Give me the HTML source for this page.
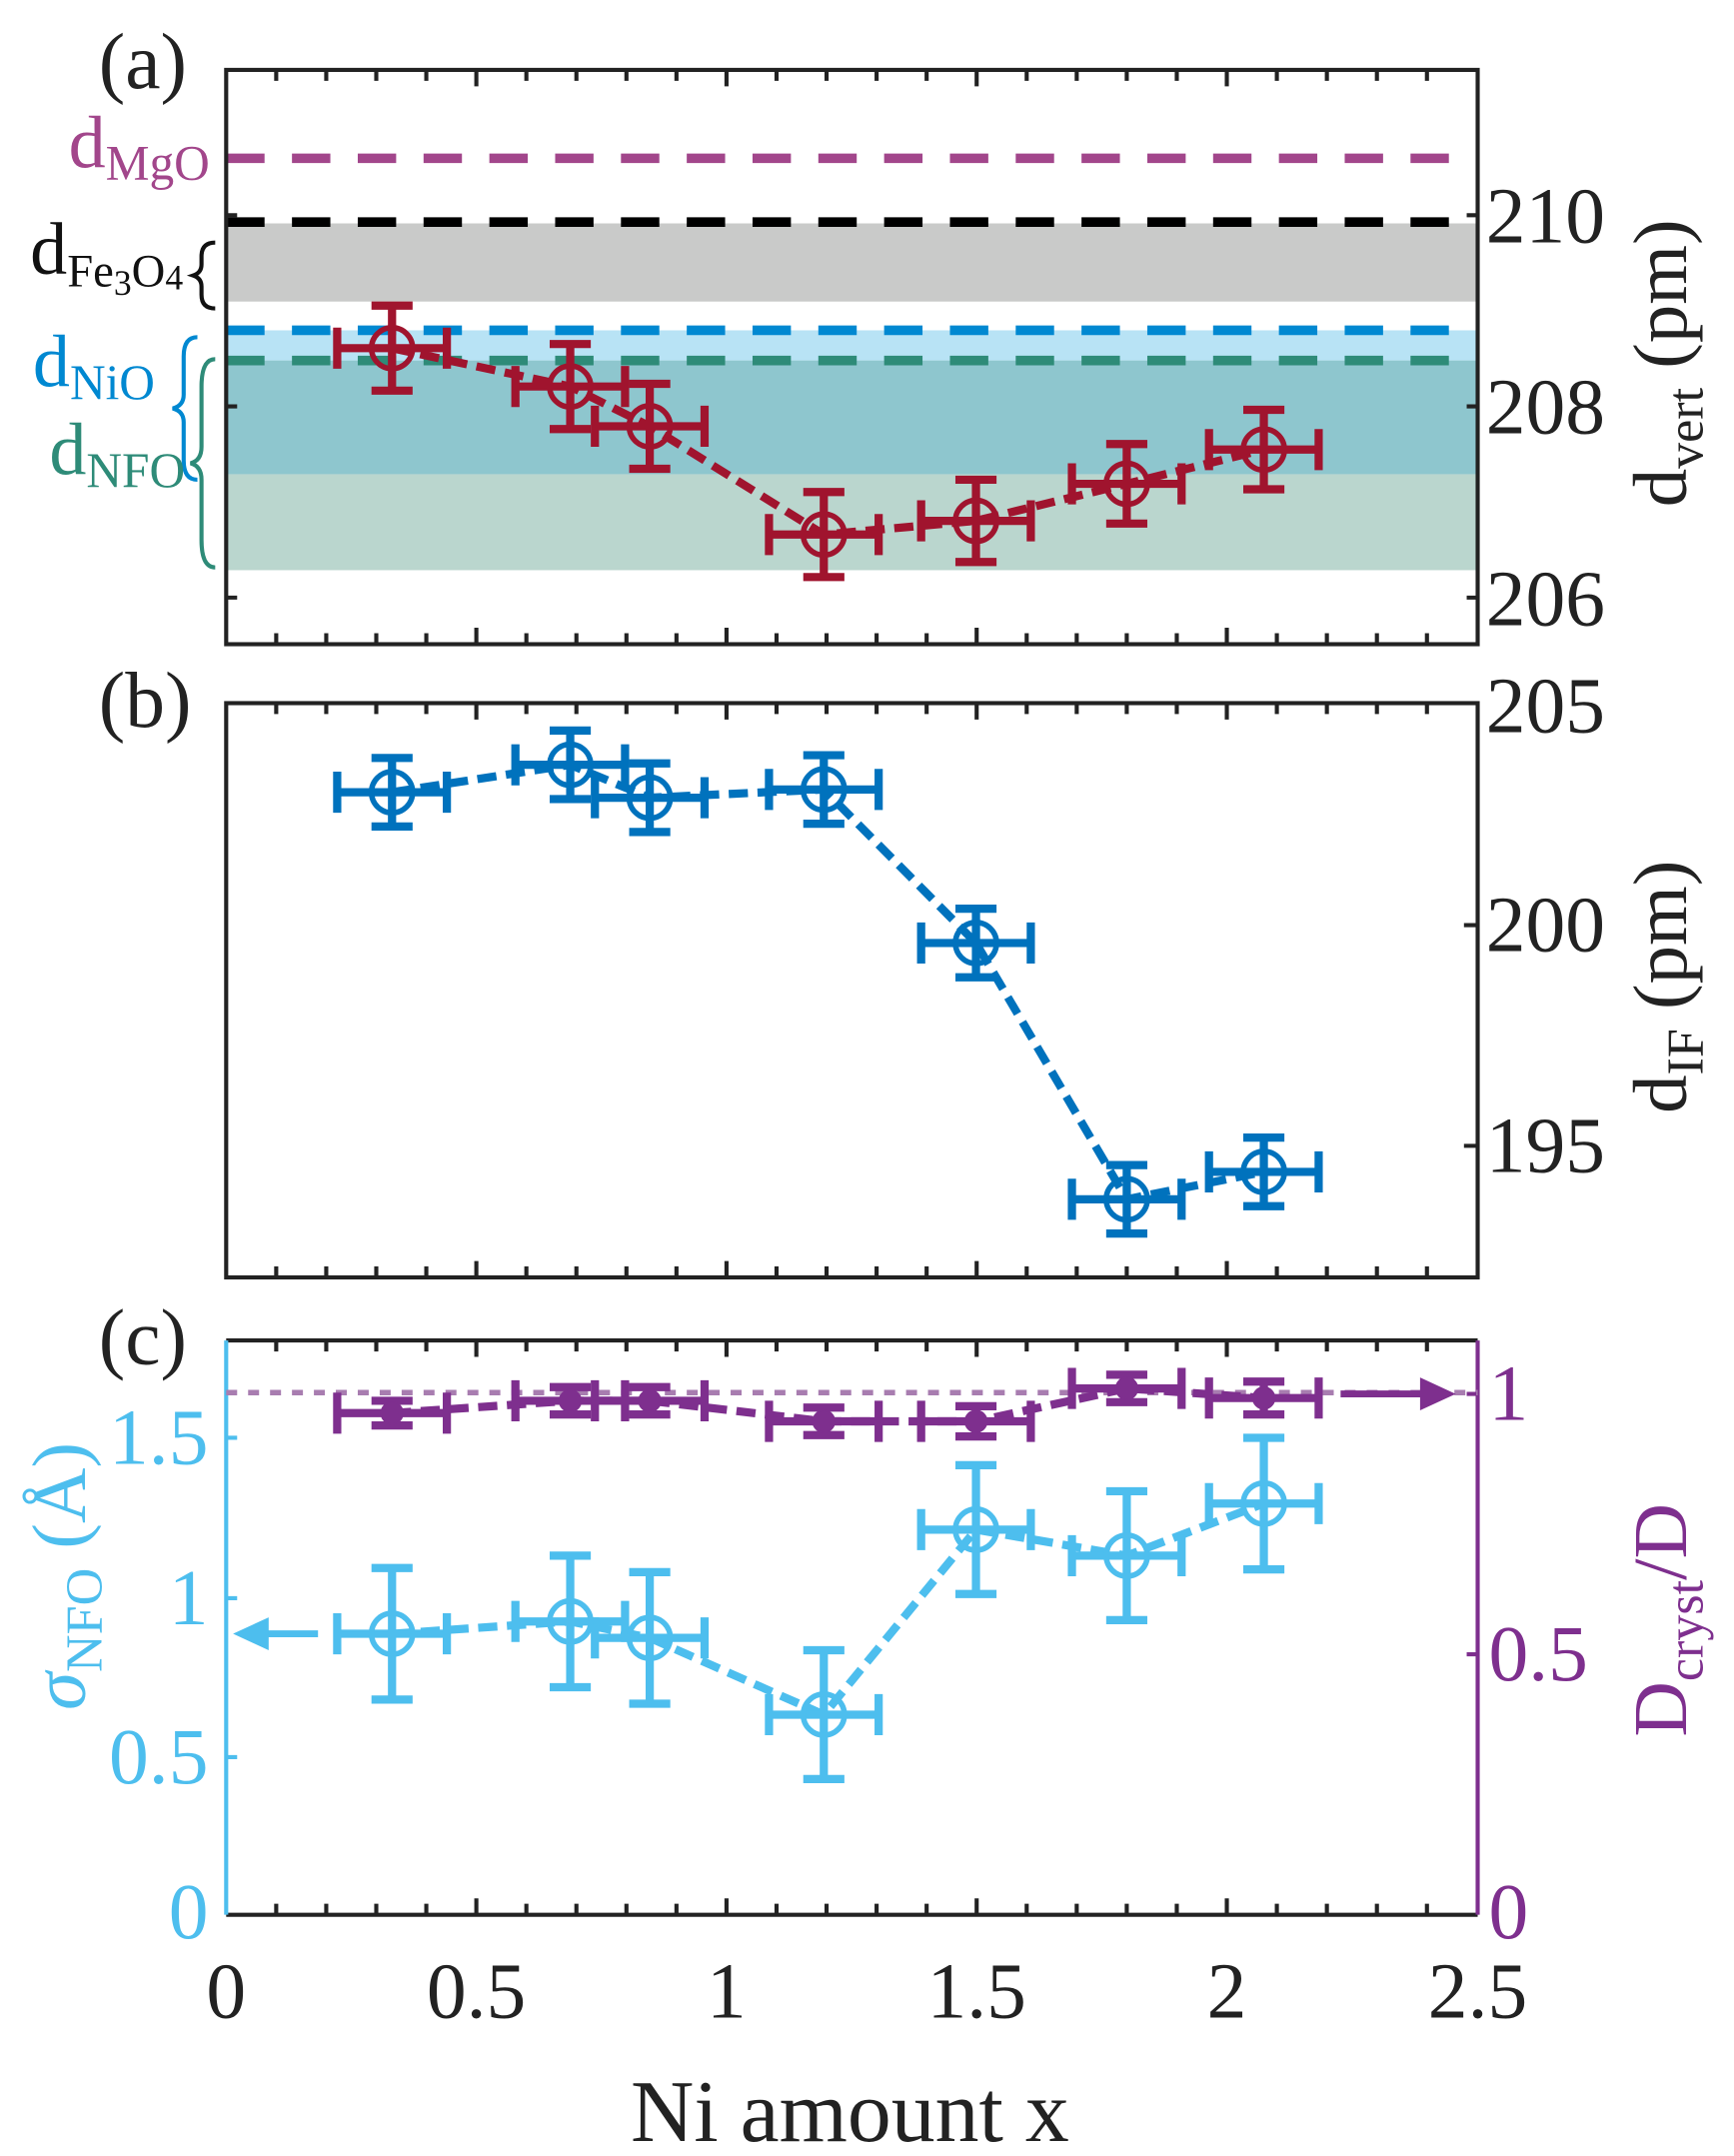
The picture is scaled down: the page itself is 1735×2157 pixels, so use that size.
<!DOCTYPE html>
<html><head><meta charset="utf-8"><style>html,body{margin:0;padding:0;background:#fff}svg{display:block}</style></head><body>
<svg width="1735" height="2157" viewBox="0 0 1265 1573" preserveAspectRatio="none" xmlns="http://www.w3.org/2000/svg" font-family="'Liberation Serif', serif">
<defs>
<g id="ta"><path d="M201.5 0v8M238 0v8M274.5 0v8M311 0v8M347.5 0v12M384 0v8M420.5 0v8M457 0v8M493.5 0v8M530 0v12M566.5 0v8M603 0v8M639.5 0v8M676 0v8M712.5 0v12M749 0v8M785.5 0v8M822 0v8M858.5 0v8M895 0v12M931.5 0v8M968 0v8M1004.5 0v8M1041 0v8" stroke="#222" stroke-width="3"/></g>
</defs>
<!-- Panel a -->
<rect x="165" y="163" width="913" height="57" fill="#C9CAC9"/>
<rect x="165" y="241" width="913" height="22" fill="#B8E3F5"/>
<rect x="165" y="263" width="913" height="83" fill="#8EC6CE"/>
<rect x="165" y="346" width="913" height="70" fill="#BAD6CE"/>
<g stroke-width="7" stroke-dasharray="28 20" fill="none">
<line x1="165" y1="115.5" x2="1076" y2="115.5" stroke="#A2468B"/>
<line x1="165" y1="162" x2="1076" y2="162" stroke="#000"/>
<line x1="165" y1="241" x2="1076" y2="241" stroke="#0088D1"/>
<line x1="165" y1="263" x2="1076" y2="263" stroke="#2E8B78"/>
</g>
<use href="#ta" transform="translate(0,51)"/>
<use href="#ta" transform="translate(0,470) scale(1,-1)"/>
<path d="M165 157h8M165 296.5h8M165 436h8M1078 157h-8M1078 296.5h-8M1078 436h-8" stroke="#222" stroke-width="3"/>
<rect x="165" y="51" width="913" height="419" fill="none" stroke="#222" stroke-width="3"/>
<g fill="#222" font-size="58">
<text x="1084" y="177">210</text><text x="1084" y="316">208</text><text x="1084" y="456">206</text>
<text x="72" y="64">(a)</text><text x="72" y="530">(b)</text><text x="72" y="995">(c)</text>
</g>
<text transform="translate(1230,265) rotate(-90)" text-anchor="middle" font-size="56" fill="#222">d<tspan font-size="38" dy="12">vert</tspan><tspan dy="-12"> (pm)</tspan></text>
<text x="153" y="122" text-anchor="end" font-size="54" fill="#A2468B">d<tspan font-size="36" dy="9">MgO</tspan></text>
<text x="22" y="200" font-size="54" fill="#111">d<tspan font-size="34" dy="9">Fe</tspan><tspan font-size="26" dy="6">3</tspan><tspan font-size="34" dy="-6">O</tspan><tspan font-size="26" dy="2">4</tspan></text>
<path d="M157 177 q-10 0 -10 10 v6 q0 6 -6 8 q6 2 6 8 v6 q0 10 10 10" fill="none" stroke="#111" stroke-width="3"/>
<text x="24" y="282" font-size="54" fill="#0088D1">d<tspan font-size="36" dy="9">NiO</tspan></text>
<path d="M144 246 q-10 0 -10 14 v28 q0 8 -8 10 q8 2 8 10 v28 q0 14 10 14" fill="none" stroke="#0088D1" stroke-width="3"/>
<text x="36" y="346" font-size="54" fill="#2E8B78">d<tspan font-size="36" dy="9">NFO</tspan></text>
<path d="M157 262 q-10 0 -10 20 v44 q0 10 -8 12 q8 2 8 12 v44 q0 20 10 20" fill="none" stroke="#2E8B78" stroke-width="3"/>
<g stroke="#A0142E" fill="none">
<polyline points="286,254 416,282 474,311 601,390 712,380 822,353 922,328" stroke-width="6" stroke-dasharray="14 7"/>
<g stroke-width="6">
<path d="M286 223v62M271 223h30M271 285h30M246 254h80M246 239v30M326 239v30"/>
<path d="M416 251v62M401 251h30M401 313h30M376 282h80M376 267v30M456 267v30"/>
<path d="M474 280v62M459 280h30M459 342h30M434 311h80M434 296v30M514 296v30"/>
<path d="M601 359v62M586 359h30M586 421h30M561 390h80M561 375v30M641 375v30"/>
<path d="M712 350v60M697 350h30M697 410h30M672 380h80M672 365v30M752 365v30"/>
<path d="M822 324v58M807 324h30M807 382h30M782 353h80M782 338v30M862 338v30"/>
<path d="M922 299v58M907 299h30M907 357h30M882 328h80M882 313v30M962 313v30"/>
</g>
<g stroke-width="4"><circle cx="286" cy="254" r="15"/><circle cx="416" cy="282" r="15"/><circle cx="474" cy="311" r="15"/><circle cx="601" cy="390" r="15"/><circle cx="712" cy="380" r="15"/><circle cx="822" cy="353" r="15"/><circle cx="922" cy="328" r="15"/></g>
</g>
<!-- Panel b -->
<use href="#ta" transform="translate(0,513)"/>
<use href="#ta" transform="translate(0,932) scale(1,-1)"/>
<path d="M1078 675h-10M1078 836h-10" stroke="#222" stroke-width="3"/>
<rect x="165" y="513" width="913" height="419" fill="none" stroke="#222" stroke-width="3"/>
<g fill="#222" font-size="58"><text x="1084" y="534">205</text><text x="1084" y="694">200</text><text x="1084" y="855">195</text></g>
<text transform="translate(1230,720) rotate(-90)" text-anchor="middle" font-size="56" fill="#222">d<tspan font-size="38" dy="12">IF</tspan><tspan dy="-12"> (pm)</tspan></text>
<g stroke="#0072BD" fill="none">
<polyline points="286,578 416,558 474,582 601,576 712,688 822,875 922,855" stroke-width="6" stroke-dasharray="14 7"/>
<g stroke-width="6">
<path d="M286 553v50M271 553h30M271 603h30M246 578h80M246 563v30M326 563v30"/>
<path d="M416 533v50M401 533h30M401 583h30M376 558h80M376 543v30M456 543v30"/>
<path d="M474 557v50M459 557h30M459 607h30M434 582h80M434 567v30M514 567v30"/>
<path d="M601 551v50M586 551h30M586 601h30M561 576h80M561 561v30M641 561v30"/>
<path d="M712 663v50M697 663h30M697 713h30M672 688h80M672 673v30M752 673v30"/>
<path d="M822 850v50M807 850h30M807 900h30M782 875h80M782 860v30M862 860v30"/>
<path d="M922 830v50M907 830h30M907 880h30M882 855h80M882 840v30M962 840v30"/>
</g>
<g stroke-width="4"><circle cx="286" cy="578" r="15"/><circle cx="416" cy="558" r="15"/><circle cx="474" cy="582" r="15"/><circle cx="601" cy="576" r="15"/><circle cx="712" cy="688" r="15"/><circle cx="822" cy="875" r="15"/><circle cx="922" cy="855" r="15"/></g>
</g>
<!-- Panel c -->
<use href="#ta" transform="translate(0,978)"/>
<use href="#ta" transform="translate(0,1397) scale(1,-1)"/>
<line x1="165" y1="978" x2="1078" y2="978" stroke="#222" stroke-width="3"/>
<line x1="165" y1="1397" x2="1078" y2="1397" stroke="#222" stroke-width="3"/>
<line x1="165" y1="978" x2="165" y2="1397" stroke="#4DBEEE" stroke-width="3"/>
<line x1="1078" y1="978" x2="1078" y2="1397" stroke="#7E2F8E" stroke-width="3"/>
<path d="M165 1049h8M165 1166h8M165 1282h8" stroke="#4DBEEE" stroke-width="3"/>
<path d="M1078 1017h-8M1078 1207h-8" stroke="#7E2F8E" stroke-width="3"/>
<g fill="#4DBEEE" font-size="58" text-anchor="end"><text x="152" y="1068">1.5</text><text x="152" y="1185">1</text><text x="152" y="1301">0.5</text><text x="152" y="1414">0</text></g>
<g fill="#7E2F8E" font-size="58"><text x="1086" y="1036">1</text><text x="1086" y="1226">0.5</text><text x="1086" y="1414">0</text></g>
<text transform="translate(62,1150) rotate(-90)" text-anchor="middle" font-size="56" fill="#4DBEEE"><tspan font-style="italic">σ</tspan><tspan font-size="38" dy="12">NFO</tspan><tspan dy="-12"> (Å)</tspan></text>
<text transform="translate(1230,1182) rotate(-90)" text-anchor="middle" font-size="56" fill="#7E2F8E">D<tspan font-size="38" dy="12">cryst</tspan><tspan dy="-12">/D</tspan></text>
<line x1="165" y1="1016" x2="1078" y2="1016" stroke="#A87DB0" stroke-width="4" stroke-dasharray="8 8"/>
<g stroke="#7E2F8E" fill="#7E2F8E">
<polyline points="286,1031 416,1022 474,1022 601,1037 712,1037 822,1013 922,1020" fill="none" stroke-width="6" stroke-dasharray="14 7"/>
<g stroke-width="6" fill="none">
<path d="M286 1022v18M271 1022h30M271 1040h30M246 1031h80M246 1016v30M326 1016v30"/>
<path d="M416 1012v20M401 1012h30M401 1032h30M376 1022h80M376 1007v30M456 1007v30"/>
<path d="M474 1012v20M459 1012h30M459 1032h30M434 1022h80M434 1007v30M514 1007v30"/>
<path d="M601 1027v20M586 1027h30M586 1047h30M561 1037h80M561 1022v30M641 1022v30"/>
<path d="M712 1026v22M697 1026h30M697 1048h30M672 1037h80M672 1022v30M752 1022v30"/>
<path d="M822 1003v20M807 1003h30M807 1023h30M782 1013h80M782 998v30M862 998v30"/>
<path d="M922 1008v24M907 1008h30M907 1032h30M882 1020h80M882 1005v30M962 1005v30"/>
</g>
<circle cx="286" cy="1031" r="8"/><circle cx="416" cy="1022" r="8"/><circle cx="474" cy="1022" r="8"/><circle cx="601" cy="1037" r="8"/><circle cx="712" cy="1037" r="8"/><circle cx="822" cy="1013" r="8"/><circle cx="922" cy="1020" r="8"/>
<path d="M978 1017h60" stroke-width="5"/><path d="M1062 1017l-26 -12v24z" stroke="none"/>
</g>
<g stroke="#4DBEEE" fill="none">
<polyline points="286,1192 416,1183 474,1195 601,1251 712,1116 822,1135 922,1097" stroke-width="6" stroke-dasharray="14 7"/>
<g stroke-width="6">
<path d="M286 1144v96M271 1144h30M271 1240h30M246 1192h80M246 1177v30M326 1177v30"/>
<path d="M416 1135v96M401 1135h30M401 1231h30M376 1183h80M376 1168v30M456 1168v30"/>
<path d="M474 1147v96M459 1147h30M459 1243h30M434 1195h80M434 1180v30M514 1180v30"/>
<path d="M601 1204v94M586 1204h30M586 1298h30M561 1251h80M561 1236v30M641 1236v30"/>
<path d="M712 1069v94M697 1069h30M697 1163h30M672 1116h80M672 1101v30M752 1101v30"/>
<path d="M822 1088v94M807 1088h30M807 1182h30M782 1135h80M782 1120v30M862 1120v30"/>
<path d="M922 1049v96M907 1049h30M907 1145h30M882 1097h80M882 1082v30M962 1082v30"/>
</g>
<g stroke-width="4"><circle cx="286" cy="1192" r="15"/><circle cx="416" cy="1183" r="15"/><circle cx="474" cy="1195" r="15"/><circle cx="601" cy="1251" r="15"/><circle cx="712" cy="1116" r="15"/><circle cx="822" cy="1135" r="15"/><circle cx="922" cy="1097" r="15"/></g>
<path d="M232 1192h-45" stroke-width="5"/><path d="M170 1192l26 -12v24z" fill="#4DBEEE" stroke="none"/>
</g>
<g fill="#222" font-size="58" text-anchor="middle">
<text x="165" y="1472">0</text><text x="347.5" y="1472">0.5</text><text x="530" y="1472">1</text><text x="712.5" y="1472">1.5</text><text x="895" y="1472">2</text><text x="1078" y="1472">2.5</text>
</g>
<text x="620" y="1562" text-anchor="middle" font-size="64" fill="#222">Ni amount x</text>
</svg>
</body></html>
